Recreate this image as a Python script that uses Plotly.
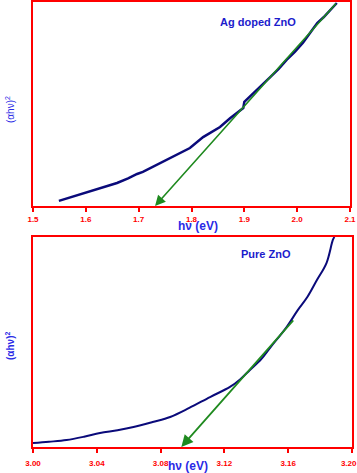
import plotly.graph_objects as go

# Ag doped ZnO (top panel), y in arbitrary units
ag_hv = [1.549, 1.572, 1.595, 1.627, 1.659, 1.680, 1.697, 1.708, 1.724, 1.740, 1.759,
         1.778, 1.797, 1.822, 1.838, 1.854, 1.873, 1.898, 1.900, 1.925, 1.949,
         1.965, 1.980, 1.996, 2.011, 2.025, 2.038, 2.050, 2.062, 2.075]
ag_ahv2 = [0.025, 0.043, 0.064, 0.088, 0.113, 0.135, 0.157, 0.167, 0.188, 0.210, 0.235,
           0.258, 0.284, 0.338, 0.362, 0.387, 0.430, 0.480, 0.510, 0.570, 0.632,
           0.672, 0.716, 0.757, 0.800, 0.850, 0.897, 0.925, 0.960, 0.995]
ag_fit_hv = [2.076, 1.731]
ag_fit_y = [1.0, 0.0]

# Pure ZnO (bottom panel)
zn_hv = [3.000, 3.010, 3.021, 3.032, 3.042, 3.053, 3.063, 3.075, 3.086, 3.098, 3.111,
         3.1235, 3.130, 3.136, 3.143, 3.149, 3.159, 3.166, 3.172, 3.178, 3.184, 3.188, 3.189]
zn_ahv2 = [0.019, 0.025, 0.033, 0.049, 0.067, 0.080, 0.095, 0.119, 0.143, 0.186, 0.238,
           0.286, 0.323, 0.367, 0.418, 0.476, 0.571, 0.652, 0.714, 0.795, 0.876, 0.986, 1.0]
zn_fit_hv = [3.164, 3.093]
zn_fit_y = [0.61, 0.0]

top_ticks = [1.5, 1.6, 1.7, 1.8, 1.9, 2.0, 2.1]
top_text = ["1.5", "1.6", "1.7", "1.8", "1.9", "2.0", "2.1"]
bot_ticks = [3.00, 3.04, 3.08, 3.12, 3.16, 3.20]
bot_text = ["3.00", "3.04", "3.08", "3.12", "3.16", "3.20"]

W, H = 357, 473
navy = "#0a0a7a"
green = "#1f8a1f"
label_blue = "#2a2ae6"
font = "Liberation Sans, Arial, sans-serif"

fig = go.Figure()
fig.add_trace(go.Scatter(x=ag_hv, y=ag_ahv2, mode="lines", line=dict(color=navy, width=2.5),
                         xaxis="x", yaxis="y", showlegend=False))
fig.add_trace(go.Scatter(x=zn_hv, y=zn_ahv2, mode="lines", line=dict(color=navy, width=2, shape="spline"),
                         xaxis="x2", yaxis="y2", showlegend=False))

# green extrapolation lines with arrow heads
fig.add_annotation(x=ag_fit_hv[1], y=ag_fit_y[1], ax=ag_fit_hv[0], ay=ag_fit_y[0],
                   xref="x", yref="y", axref="x", ayref="y", text="", showarrow=True,
                   arrowhead=2, arrowsize=1.3, arrowwidth=1.6, arrowcolor=green)
fig.add_annotation(x=zn_fit_hv[1], y=zn_fit_y[1], ax=zn_fit_hv[0], ay=zn_fit_y[0],
                   xref="x2", yref="y2", axref="x2", ayref="y2", text="", showarrow=True,
                   arrowhead=2, arrowsize=1.3, arrowwidth=1.8, arrowcolor=green)

frame = dict(showline=True, mirror=True, linecolor="red", linewidth=2, showgrid=False,
             zeroline=False, automargin=False)
tickfont = dict(family=font, size=8, color="red")

# last bottom label sits against the edge, pad it to the left
bot_labels = ["<b>%s</b>" % t for t in bot_text]
bot_labels[-1] = "<b>3.20</b>&nbsp;&nbsp;&nbsp;"

fig.update_layout(
    width=W, height=H,
    margin=dict(l=0, r=0, t=0, b=0),
    paper_bgcolor="white", plot_bgcolor="white",
    xaxis=dict(frame, domain=[33 / W, 350 / W], range=[1.5, 2.1], tickvals=top_ticks,
               ticktext=["<b>%s</b>" % t for t in top_text], tickfont=tickfont, anchor="y",
               ticks="outside", ticklen=4, tickcolor="red", tickwidth=1.5,
               ticklabelstandoff=0, ticklabeloverflow="allow"),
    yaxis=dict(frame, domain=[1 - 206 / H, 1 - 2 / H], range=[0, 1], showticklabels=False,
               ticks="", anchor="x"),
    xaxis2=dict(frame, domain=[33 / W, 352 / W], range=[3.0, 3.2], tickvals=bot_ticks,
                ticktext=bot_labels, tickfont=tickfont, anchor="y2",
                ticks="outside", ticklen=4, tickcolor="red", tickwidth=1.5,
                ticklabelstandoff=3, ticklabeloverflow="allow"),
    yaxis2=dict(frame, domain=[1 - 447 / H, 1 - 237 / H], range=[0, 1], showticklabels=False,
                ticks="", anchor="x2"),
)

def label(text, px, py, size, color, angle=0):
    fig.add_annotation(x=px / W, y=1 - py / H, xref="paper", yref="paper", text=text,
                       showarrow=False, textangle=angle, xanchor="center", yanchor="middle",
                       font=dict(family=font, size=size, color=color))

label("<b>Ag doped ZnO</b>", 258, 22, 11, "#1c1ccc")
label("<b>Pure ZnO</b>", 266, 254, 11, "#1c1ccc")
label("<b>hν (eV)</b>", 198, 226, 12, label_blue)
label("<b>hν (eV)</b>", 188, 466, 12, label_blue)
label("(αhν)<sup>2</sup>", 10, 110, 10, label_blue, -90)
label("<b>(αhν)<sup>2</sup></b>", 10, 346, 10, label_blue, -90)

fig.write_html("out.html", config={"displayModeBar": False},
               post_script="document.body.style.margin='0';")
